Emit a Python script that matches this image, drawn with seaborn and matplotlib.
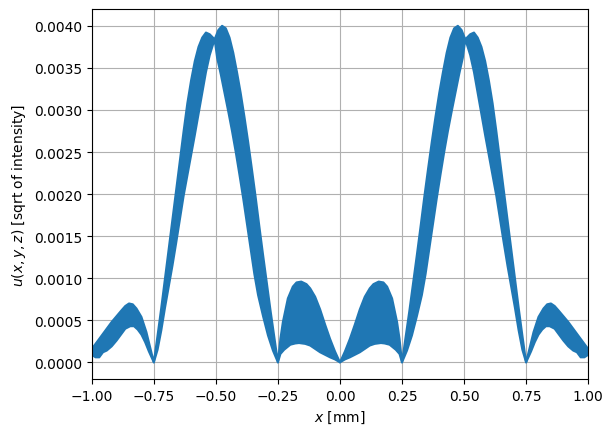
import numpy as np
import matplotlib
matplotlib.use("Agg")
import matplotlib.pyplot as plt
from matplotlib.ticker import MultipleLocator
import seaborn as sns

# envelope of the fast oscillating field, left half (x < 0), values in 1e-3
upper_x = [-1.0, -0.98, -0.96, -0.94, -0.92, -0.90, -0.88, -0.865, -0.85, -0.835, -0.82, -0.80, -0.78, -0.765,
           -0.75, -0.735, -0.72, -0.705, -0.69, -0.675, -0.66, -0.645, -0.63, -0.615, -0.60, -0.585, -0.57,
           -0.555, -0.54, -0.525, -0.505, -0.49, -0.475, -0.46, -0.445, -0.43, -0.415, -0.40, -0.385, -0.37,
           -0.355, -0.34, -0.325, -0.31, -0.295, -0.28, -0.265,
           -0.25, -0.24, -0.23, -0.21, -0.19, -0.175, -0.156, -0.135, -0.12, -0.10, -0.08, -0.06, -0.04, -0.02, 0.0]
upper_u = [0.16, 0.24, 0.32, 0.40, 0.48, 0.55, 0.62, 0.67, 0.70, 0.69, 0.64, 0.54, 0.36, 0.18,
           0.0, 0.32, 0.65, 1.00, 1.35, 1.70, 2.05, 2.40, 2.75, 3.08, 3.35, 3.58, 3.75,
           3.86, 3.92, 3.90, 3.84, 3.95, 4.00, 3.97, 3.86, 3.68, 3.45, 3.20, 2.92, 2.62,
           2.30, 1.97, 1.62, 1.28, 0.95, 0.62, 0.31,
           0.0, 0.28, 0.48, 0.76, 0.90, 0.95, 0.96, 0.93, 0.88, 0.78, 0.63, 0.45, 0.28, 0.13, 0.0]

lower_x = [-1.0, -0.985, -0.97, -0.955, -0.94, -0.92, -0.90, -0.88, -0.865, -0.845, -0.83, -0.815, -0.80,
           -0.785, -0.77,
           -0.75, -0.735, -0.72, -0.705, -0.69, -0.675, -0.66, -0.645, -0.63, -0.615, -0.60, -0.585, -0.57,
           -0.555, -0.54, -0.525, -0.505, -0.495, -0.48, -0.465, -0.45, -0.435, -0.42, -0.405, -0.39, -0.375,
           -0.36, -0.345, -0.33, -0.31, -0.29, -0.27,
           -0.25, -0.24, -0.225, -0.20, -0.18, -0.165, -0.14, -0.12, -0.10, -0.08, -0.06, -0.04, -0.02, 0.0]
lower_u = [0.09, 0.06, 0.06, 0.12, 0.14, 0.19, 0.26, 0.34, 0.40, 0.43, 0.43, 0.39, 0.33,
           0.24, 0.13,
           0.0, 0.15, 0.38, 0.65, 0.90, 1.15, 1.42, 1.70, 1.98, 2.22, 2.46, 2.70, 2.95,
           3.20, 3.45, 3.65, 3.84, 3.62, 3.42, 3.20, 2.98, 2.75, 2.50, 2.23, 1.95, 1.65,
           1.35, 1.05, 0.80, 0.55, 0.32, 0.14,
           0.0, 0.10, 0.15, 0.21, 0.225, 0.23, 0.22, 0.20, 0.16, 0.12, 0.09, 0.06, 0.035, 0.0]


def mirror(xs, us):
    # pattern is symmetric about x = 0
    xs = np.asarray(xs)
    us = np.asarray(us) * 1e-3
    return np.concatenate([xs, -xs[::-1][1:]]), np.concatenate([us, us[::-1][1:]])


ux, uu = mirror(upper_x, upper_u)
lx, lu = mirror(lower_x, lower_u)

color = "#1f77b4"
fig, ax = plt.subplots(figsize=(6.12, 4.35), dpi=100)
fig.subplots_adjust(left=0.150, right=0.961, top=0.977, bottom=0.126)

ax.fill(np.concatenate([ux, lx[::-1]]), np.concatenate([uu, lu[::-1]]), color=color, lw=0)
sns.lineplot(x=ux, y=uu, color=color, lw=1.5, ax=ax)
sns.lineplot(x=lx, y=lu, color=color, lw=1.5, ax=ax)

ax.set_xlim(-1, 1)
ax.set_ylim(-0.0002, 0.0042)
ax.xaxis.set_major_locator(MultipleLocator(0.25))
ax.yaxis.set_major_locator(MultipleLocator(0.0005))
ax.set_axisbelow(True)
ax.grid(True, color="#b0b0b0", lw=0.8)
ax.set_xlabel("$x$ [mm]")
ax.set_ylabel("$u(x,y,z)$ [sqrt of intensity]")

fig.savefig("out.png", dpi=100)
